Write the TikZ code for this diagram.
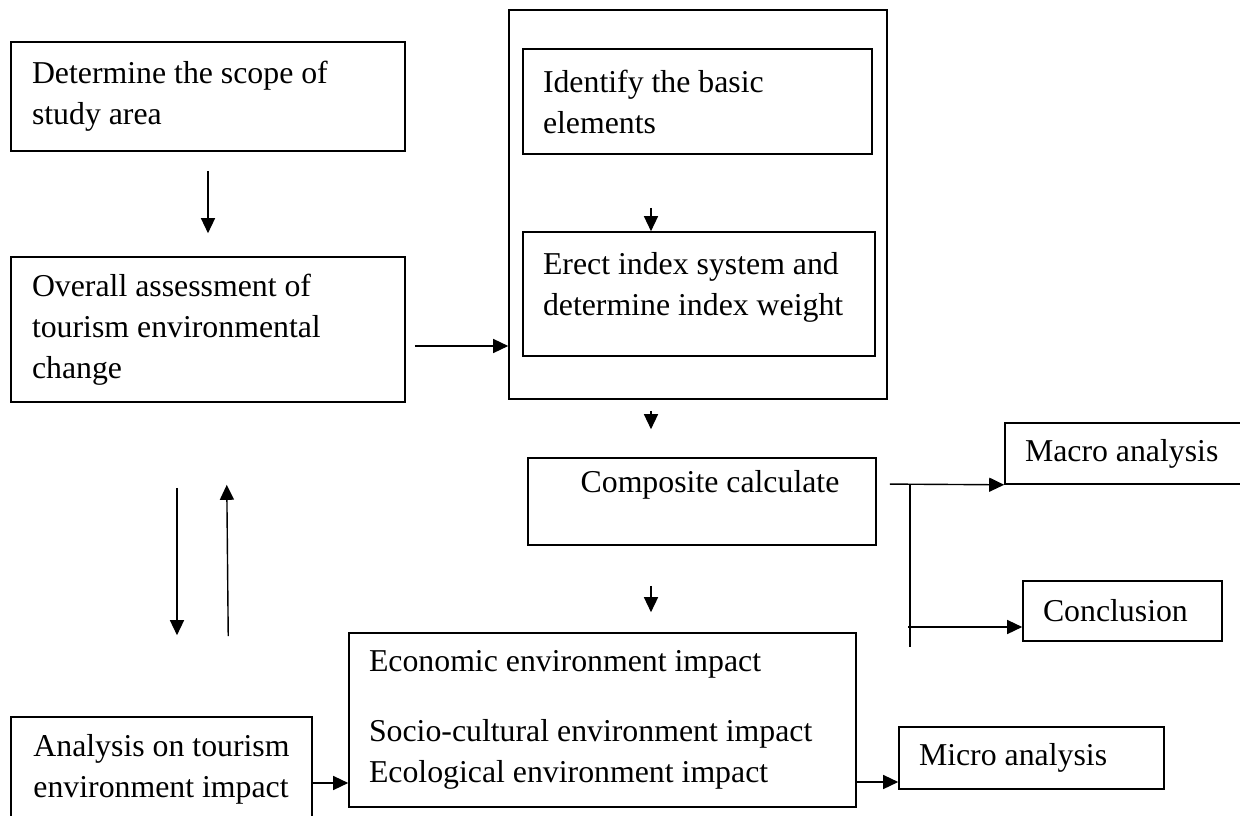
\documentclass[tikz,border=0pt]{standalone}
\usepackage{fontspec}
\setmainfont{Liberation Serif}
\usetikzlibrary{arrows.meta}

\begin{document}
\begin{tikzpicture}[x=1pt, y=-1pt,
    box/.style={draw, line width=1.6pt, inner sep=0pt, align=flush left,
      font=\fontsize{31.8pt}{41pt}\selectfont},
    arr/.style={line width=1.4pt, -{Triangle[length=15pt,width=14pt]}},
    link/.style={line width=1.4pt}]
    \useasboundingbox (0,0) rectangle (1240,816);
    \clip (0,0) rectangle (1240,816);

    \node[box, minimum width=394pt, minimum height=109pt, text width=352pt] (scope) at (208,96.5) {Determine the scope of\\study area};
    \node[box, minimum width=394pt, minimum height=145pt, text width=352pt] (overall) at (208,329.5) {Overall assessment of\\tourism environmental\\change};
    \node[box, minimum width=301pt, minimum height=104pt, align=left] (analysis) at (161.5,769) {Analysis on tourism\\environment impact};

    \node[box, minimum width=378pt, minimum height=389pt] (frame) at (698,204.5) {};
    \node[box, minimum width=349pt, minimum height=105pt, text width=309pt] (identify) at (697.5,101.5) {Identify the basic\\elements};
    \node[box, minimum width=352pt, minimum height=124pt, text width=312pt] (erect) at (699,294) {Erect index system and\\determine index weight\\[-20pt]\mbox{}};
    \node[box, minimum width=348pt, minimum height=87pt, align=center] (composite) at (702,501.5) {\hspace*{16pt}Composite calculate\\ \mbox{}};
    \node[box, minimum width=507pt, minimum height=174pt, text width=467pt] (econ) at (602.5,720) {Economic environment impact\\[29pt]Socio-cultural environment impact\\Ecological environment impact};

    \node[box, minimum width=257pt, minimum height=61pt, text width=217pt] (macro) at (1133.5,453.5) {Macro analysis};
    \node[box, minimum width=199pt, minimum height=60pt, text width=159pt] (conclusion) at (1122.5,611) {Conclusion};
    \node[box, minimum width=265pt, minimum height=62pt, text width=225pt] (micro) at (1031.5,758) {Micro analysis};

    % left column
    \draw[arr, shorten <=19pt, shorten >=23pt] (scope.south) -- (overall.north);
    \draw[arr, shorten <=85pt, shorten >=81pt] ([xshift=-31pt]overall.south) -- ([xshift=15.5pt]analysis.north);
    \draw[arr, shorten <=80pt, shorten >=82pt] ([xshift=67.5pt]analysis.north) -- ([xshift=18pt]overall.south);

    \coordinate (o1) at ([yshift=-16.5pt]overall.east);
    \draw[arr, shorten <=9pt] (o1) -- (o1 -| frame.west);

    % middle column
    \draw[arr, shorten <=53pt] ([xshift=-46.5pt]identify.south) -- ([xshift=-48pt]erect.north);
    \draw[arr, shorten <=11pt, shorten >=28pt] ([xshift=-47pt]frame.south) -- ([xshift=-51pt]composite.north);
    \draw[arr, shorten <=40pt, shorten >=20pt] ([xshift=-51pt]composite.south) -- ([xshift=48.5pt]econ.north);

    \draw[arr] ([yshift=-14pt]analysis.east) -- ([yshift=-63pt]econ.west);
    \draw[arr] ([yshift=-62pt]econ.east) -- ([yshift=-24pt]micro.west);

    % right branch
    \coordinate (c1) at ([yshift=17.5pt]composite.east);
    \coordinate (t1) at (910,484);
    \coordinate (t2) at (910,647);
    \coordinate (t3) at (908,627);
    \draw[arr, shorten <=13pt] (c1) -- (macro.south west);
    \draw[link] (t1) -- (t2);
    \draw[arr] (t3) -- (t3 -| conclusion.west);
\end{tikzpicture}
\end{document}
